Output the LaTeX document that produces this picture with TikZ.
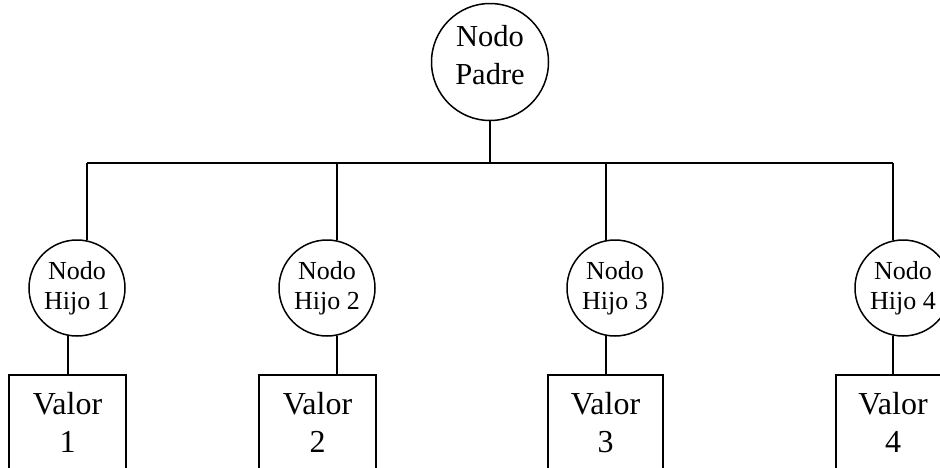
\documentclass[tikz,border=0pt]{standalone}
\usepackage{fontspec}
\setmainfont{Liberation Serif}
\begin{document}
\begin{tikzpicture}[x=1pt,y=-1pt,
  conn/.style={line width=1.7pt},
  rootnode/.style={circle,draw,line width=1.5pt,minimum size=117pt,inner sep=0pt},
  roottext/.style={align=center,inner sep=0pt,font=\fontsize{30.5}{38}\selectfont},
  childnode/.style={circle,draw,line width=1.5pt,minimum size=96pt,inner sep=0pt,align=center,font=\fontsize{26}{30}\selectfont},
  valbox/.style={rectangle,draw,line width=1.7pt,minimum width=117pt,minimum height=96pt,inner sep=0pt,align=center,anchor=north,font=\fontsize{32}{38}\selectfont}]
\useasboundingbox (0,0) rectangle (940,467);
\clip (0,0) rectangle (940,467);
\node[rootnode,label={[roottext,yshift=7pt]center:Nodo\\Padre}] (root) at (490,62) {};
\node[childnode] (c1) at (77,288) {Nodo\\Hijo 1};
\node[childnode] (c2) at (327,288) {Nodo\\Hijo 2};
\node[childnode] (c3) at (615,288) {Nodo\\Hijo 3};
\node[childnode] (c4) at (903,288) {Nodo\\Hijo 4};
\node[valbox] (v1) at (67.5,374) {Valor\\1};
\node[valbox] (v2) at (317.5,374) {Valor\\2};
\node[valbox,minimum width=115pt] (v3) at (605.5,374) {Valor\\3};
\node[valbox,minimum width=114pt] (v4) at (893,374) {Valor\\4};
\coordinate (bar) at (490,163);
\draw[conn] (root.south) -- (bar);
\draw[conn] (c1.78 |- bar) -- (c4.102 |- bar);
\draw[conn] (c1.78 |- bar) -- (c1.78);
\draw[conn] (c2.78 |- bar) -- (c2.78);
\draw[conn] (c3.101 |- bar) -- (c3.101);
\draw[conn] (c4.102 |- bar) -- (c4.102);
\draw[conn] (c1.-101) -- (c1.-101 |- v1.north);
\draw[conn] (c2.-78) -- (c2.-78 |- v2.north);
\draw[conn] (c3.-101) -- (c3.-101 |- v3.north);
\draw[conn] (c4.-102) -- (c4.-102 |- v4.north);
\end{tikzpicture}
\end{document}
